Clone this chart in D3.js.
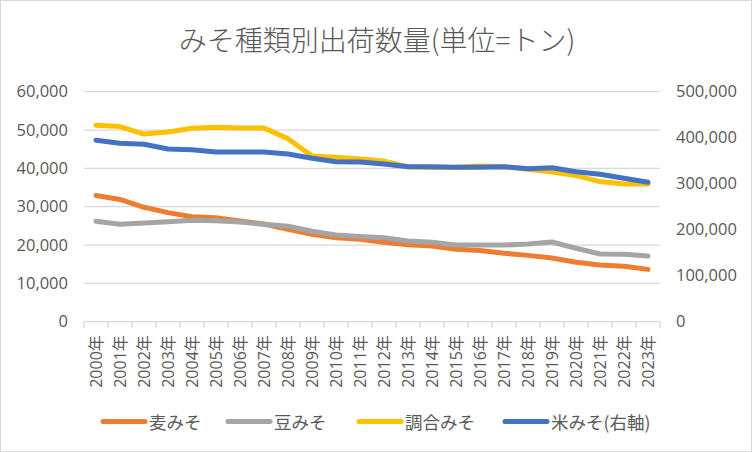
<!DOCTYPE html>
<html><head><meta charset="utf-8">
<script src="https://cdn.jsdelivr.net/npm/d3@7"></script>
<style>
html,body{margin:0;padding:0;background:#fff;}
svg{display:block;font-family:"Noto Sans CJK JP","Noto Sans",sans-serif;}
</style></head>
<body>
<svg id="chart" width="752" height="452"></svg>
<script>
const years = ["2000年","2001年","2002年","2003年","2004年","2005年","2006年","2007年","2008年","2009年","2010年","2011年","2012年","2013年","2014年","2015年","2016年","2017年","2018年","2019年","2020年","2021年","2022年","2023年"];
const mugiMiso = [32900,31900,29850,28450,27400,27100,26300,25500,24100,22800,21900,21500,20700,20100,19750,18900,18600,17850,17300,16600,15500,14800,14450,13650];
const mameMiso = [26200,25400,25750,26100,26450,26350,26000,25400,24900,23600,22600,22200,21900,21050,20700,20000,20000,20000,20250,20800,19150,17650,17600,17150];
const chougouMiso = [51250,50900,48950,49500,50450,50700,50500,50500,47750,43250,42900,42450,41900,40450,40250,40300,40600,40400,39750,39050,38100,36550,35900,35900];
const komeMiso = [394300,387800,385600,375400,374000,368900,368900,368900,364600,355200,347800,347200,342800,337000,337000,335600,335600,337000,332600,334800,326100,320400,311700,303000];
const leftTicks = [0,10000,20000,30000,40000,50000,60000];
const rightTicks = [0,100000,200000,300000,400000,500000];
const seriesNames = ["麦みそ","豆みそ","調合みそ","米みそ(右軸)"];
const seriesColors = ["#ED7D31","#A5A5A5","#FFC000","#4472C4"];
const title = "みそ種類別出荷数量(単位=トン)";

const svg = d3.select("#chart");
const W = 752, H = 452;
const m = {left:84, right:660, top:91.7, bottom:321.7};
const txt = "#595959", grid = "#D9D9D9";
const numFont = "'Open Sans','Noto Sans CJK JP',sans-serif";

svg.append("rect").attr("x",0.5).attr("y",0.5).attr("width",W-1).attr("height",H-1)
  .attr("fill","#fff").attr("stroke","#D9D9D9").attr("stroke-width",1);

svg.append("text").attr("x",377).attr("y",51).attr("text-anchor","middle")
  .attr("font-size",28).attr("fill",txt).attr("font-weight",300).text(title);

const x = d3.scaleBand().domain(years).range([m.left,m.right]).padding(0);
const yL = d3.scaleLinear().domain([0,60000]).range([m.bottom,m.top]);
const yR = d3.scaleLinear().domain([0,500000]).range([m.bottom,m.top]);
const fmt = d3.format(",");

// gridlines
svg.append("g").selectAll("line").data(leftTicks.filter(d=>d>0)).join("line")
  .attr("x1",m.left).attr("x2",m.right).attr("y1",d=>yL(d)).attr("y2",d=>yL(d))
  .attr("stroke",grid).attr("stroke-width",1.3);

// left axis
const gl = svg.append("g").attr("transform",`translate(${m.left},0)`)
  .call(d3.axisLeft(yL).tickValues(leftTicks).tickFormat(d=>fmt(d)).tickSize(0).tickPadding(16));
gl.select(".domain").remove();
gl.selectAll("text").attr("fill",txt).attr("font-size",16.5).attr("font-family",numFont);

// right axis
const gr = svg.append("g").attr("transform",`translate(${m.right},0)`)
  .call(d3.axisRight(yR).tickValues(rightTicks).tickFormat(d=>fmt(d)).tickSize(0).tickPadding(16));
gr.select(".domain").remove();
gr.selectAll("text").attr("fill",txt).attr("font-size",16.5).attr("font-family",numFont);

// bottom axis
const gb = svg.append("g").attr("transform",`translate(0,${m.bottom})`)
  .call(d3.axisBottom(x).tickSize(0).tickPadding(0));
gb.select(".domain").attr("stroke",grid).attr("stroke-width",1.3).attr("d",`M${m.left},0H${m.right}`);
gb.selectAll(".tick text").attr("fill",txt).attr("font-size",16).attr("font-family",numFont)
  .attr("text-anchor","end").attr("dy",null).attr("y",0)
  .attr("transform","translate(0,13.5) rotate(-90)").attr("dominant-baseline","central");
// tick marks between categories
const bounds = years.map(d=>x(d)).concat([m.right]);
gb.append("g").selectAll("line").data(bounds).join("line")
  .attr("x1",d=>d).attr("x2",d=>d).attr("y1",0).attr("y2",6)
  .attr("stroke",grid).attr("stroke-width",1.3);

const cx = d => x(d) + x.bandwidth()/2;
const lineL = d3.line().x((d,i)=>cx(years[i])).y(d=>yL(d));
const lineR = d3.line().x((d,i)=>cx(years[i])).y(d=>yR(d));
const data = [[mugiMiso,lineL],[mameMiso,lineL],[chougouMiso,lineL],[komeMiso,lineR]];
data.forEach(([vals,gen],i)=>{
  svg.append("path").attr("d",gen(vals)).attr("fill","none")
    .attr("stroke",seriesColors[i]).attr("stroke-width",5)
    .attr("stroke-linejoin","round").attr("stroke-linecap","round");
});

// legend
const legX = [103,228,359,505];
const lg = svg.append("g");
seriesNames.forEach((n,i)=>{
  lg.append("line").attr("x1",legX[i]).attr("x2",legX[i]+42).attr("y1",421.5).attr("y2",421.5)
    .attr("stroke",seriesColors[i]).attr("stroke-width",5).attr("stroke-linecap","round");
  lg.append("text").attr("x",legX[i]+46).attr("y",421.5).attr("dominant-baseline","central")
    .attr("font-size",17.5).attr("fill",txt).text(n);
});
</script>
</body></html>
